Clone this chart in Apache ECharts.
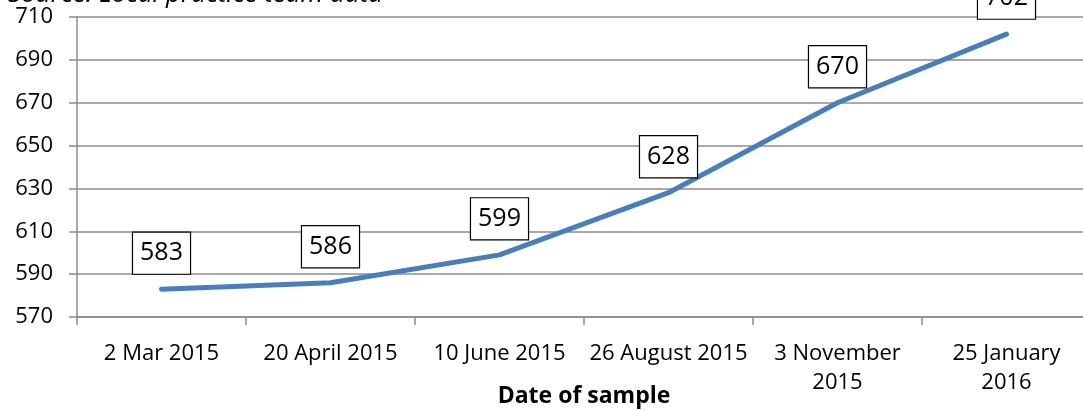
<!DOCTYPE html>
<html>
<head>
<meta charset="utf-8">
<title>Date of sample</title>
<script src="https://cdn.jsdelivr.net/npm/echarts@6/dist/echarts.min.js"></script>
<style>
  html, body { margin: 0; padding: 0; background: #ffffff; }
  #chart { width: 1083px; height: 410px; }
</style>
</head>
<body>
<div id="chart"></div>
<script>
// Sample dates (x categories) and measured values
const sampleDates = [
  '2 Mar 2015',
  '20 April 2015',
  '10 June 2015',
  '26 August 2015',
  '3 November\n2015',
  '25 January\n2016'
];
const sampleValues = [583, 586, 599, 628, 670, 702];

// Value axis range and step
const yMin = 570;
const yMax = 710;
const yStep = 20;

const sourceNote = 'Source: Local practice team data';
const xAxisTitle = 'Date of sample';

const FONT = '"Open Sans", "Noto Sans", sans-serif';
const GRID_GREY = '#8c8c8c';

const chart = echarts.init(document.getElementById('chart'), null, { renderer: 'canvas' });

chart.setOption({
  animation: false,
  backgroundColor: '#ffffff',
  textStyle: { fontFamily: FONT },
  graphic: [{
    type: 'text',
    left: 8,
    top: -18,
    style: {
      text: sourceNote,
      fontFamily: FONT,
      fontStyle: 'italic',
      fontSize: 26,
      fill: '#000000'
    }
  }],
  grid: {
    left: 77,
    top: 17,
    width: 1014,
    height: 300,
    containLabel: false,
    outerBoundsMode: 'none'
  },
  xAxis: {
    type: 'category',
    data: sampleDates,
    boundaryGap: true,
    name: xAxisTitle,
    nameLocation: 'middle',
    nameGap: 68,
    nameMoveOverlap: false,
    nameTextStyle: {
      fontFamily: FONT,
      fontWeight: 'bold',
      fontSize: 23,
      color: '#000000'
    },
    axisLine: { show: true, lineStyle: { color: GRID_GREY, width: 1.5 } },
    axisTick: { show: true, length: 8, interval: 0, lineStyle: { color: GRID_GREY, width: 1.5 } },
    axisLabel: {
      interval: 0,
      margin: 22,
      fontFamily: FONT,
      fontSize: 22,
      lineHeight: 29,
      color: '#000000'
    },
    splitLine: { show: false }
  },
  yAxis: {
    type: 'value',
    min: yMin,
    max: yMax,
    interval: yStep,
    axisLine: { show: true, lineStyle: { color: GRID_GREY, width: 1.5 } },
    axisTick: { show: true, length: 8, lineStyle: { color: GRID_GREY, width: 1.5 } },
    axisLabel: {
      margin: 24,
      fontFamily: FONT,
      fontSize: 22,
      color: '#000000'
    },
    splitLine: { show: true, lineStyle: { color: GRID_GREY, width: 1.5 } }
  },
  series: [{
    type: 'line',
    data: sampleValues,
    symbol: 'circle',
    symbolSize: 1,
    showSymbol: true,
    itemStyle: { color: '#4a7ebb' },
    lineStyle: { color: '#4a7ebb', width: 5, cap: 'round', join: 'round' },
    label: {
      show: true,
      position: 'top',
      distance: 15,
      fontFamily: FONT,
      fontSize: 25,
      lineHeight: 27,
      color: '#000000',
      backgroundColor: '#ffffff',
      borderColor: '#000000',
      borderWidth: 1.2,
      padding: [7, 7, 7, 7]
    }
  }]
});
</script>
</body>
</html>
